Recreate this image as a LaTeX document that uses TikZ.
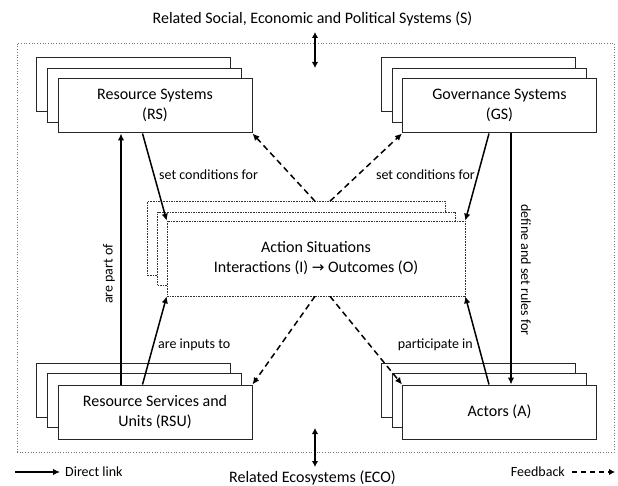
\documentclass[tikz,border=0pt]{standalone}
\usepackage{fontspec}
\setmainfont{Carlito}
\newfontfamily\symfont{DejaVu Sans}
\usetikzlibrary{arrows.meta}
\begin{document}
\begin{tikzpicture}[x=1pt,y=-1pt,
  every node/.style={font=\fontsize{16}{20}\selectfont},
  sysbox/.style={draw=black!85, fill=white, line width=1pt, minimum width=194pt, minimum height=54pt, inner sep=0pt, align=center},
  asbox/.style={draw=black!80, fill=white, line width=0.6pt, dash pattern=on 1.6pt off 1pt, minimum width=298pt, minimum height=74pt, inner sep=0pt, align=center},
  link/.style={line width=1.5pt, -{Latex[length=7pt,width=6.5pt]}},
  fb/.style={line width=1.5pt, dash pattern=on 6pt off 4pt, -{Latex[length=7pt,width=6.5pt]}},
  dbl/.style={line width=1.5pt, {Latex[length=6pt,width=6.5pt]}-{Latex[length=6pt,width=6.5pt]}},
  lbl/.style={font=\fontsize{14}{16}\selectfont, inner sep=0pt},
]
\useasboundingbox (0,0) rectangle (618,486);
% outer frame
\node[draw=black!55, dotted, line width=0.7pt, minimum width=597pt, minimum height=409pt, inner sep=0pt] (frame) at (315.5,247.5) {};
% top
\node (soc) at (312.5,19) {Related Social, Economic and Political Systems (S)};
\coordinate (st) at (315,32);
\coordinate (sb) at (315,68);
\draw[dbl] (st) -- (sb);
% RS stack
\node[sysbox] (rs3) at (133.5,85) {};
\node[sysbox] (rs2) at (144,95.5) {};
\node[sysbox, text depth=3pt] (rs) at (155,106) {Resource Systems\\(RS)};
% GS stack
\node[sysbox] (gs3) at (478.5,85) {};
\node[sysbox] (gs2) at (489,95.5) {};
\node[sysbox, text depth=3pt] (gs) at (499.5,106) {Governance Systems\\(GS)};
% RSU stack
\node[sysbox] (rsu3) at (133.5,390) {};
\node[sysbox] (rsu2) at (144,400.5) {};
\node[sysbox] (rsu) at (155,412) {Resource Services and\\Units (RSU)};
% Actors stack
\node[sysbox] (a3) at (478.5,390) {};
\node[sysbox] (a2) at (489,400.5) {};
\node[sysbox] (a) at (499.5,412) {Actors (A)};
% Action situations stack
\node[asbox] (as3) at (296.5,238.5) {};
\node[asbox, minimum height=73pt] (as2) at (306.5,248.5) {};
\node[asbox, minimum height=75pt] (as) at (316,258.5) {Action Situations\\Interactions (I) {\symfont\fontsize{15}{20}\selectfont →} Outcomes (O)};
% direct links
\draw[link] ([xshift=63.5pt]rsu.north west) -- ([xshift=63.5pt]rs.south west);
\draw[link] ([xshift=85pt]rs.south west) -- (as.north west);
\draw[link] ([xshift=85pt]rsu.north west) -- (as.south west);
\draw[link] ([xshift=87pt]gs.south west) -- (as.north east);
\draw[link] ([xshift=87pt]a.north west) -- (as.south east);
\draw[link] ([xshift=109pt]gs.south west) -- ([xshift=109pt]a.north west);
% feedback
\draw[fb] ([xshift=18.5pt]as3.north) -- (rs.south east);
\draw[fb] ([xshift=33.5pt]as3.north) -- (gs.south west);
\draw[fb] ([xshift=-1pt]as.south) -- (rsu.north east);
\draw[fb] ([xshift=14pt]as.south) -- (a.north west);
% labels
\node[lbl, anchor=west] (l1) at (159,175) {set conditions for};
\node[lbl, anchor=east] (l2) at (475,175) {set conditions for};
\node[lbl, anchor=west] (l3) at (158,345) {are inputs to};
\node[lbl, anchor=east] (l4) at (473,345) {participate in};
\node[lbl, rotate=90] (l5) at (109,274) {are part of};
\node[lbl, rotate=-90] (l6) at (526,270) {define and set rules for};
% bottom
\coordinate (et) at (315,428);
\coordinate (eb) at (315,467);
\draw[dbl] (et) -- (eb);
\node (eco) at (312.5,478) {Related Ecosystems (ECO)};
% legend
\coordinate (dl1) at (15,472);
\coordinate (dl2) at (60,472);
\draw[line width=1.5pt, -{Latex[length=7pt,width=6.5pt]}] (dl1) -- (dl2);
\node[lbl, anchor=west] (dlt) at (65,472) {Direct link};
\node[lbl, anchor=east] (fbt) at (565,472) {Feedback};
\coordinate (fb2) at (615,472);
\draw[line width=1.5pt, dash pattern=on 5pt off 4pt, -{Latex[length=6pt,width=6.5pt]}] ([xshift=7pt]fbt.east) -- (fb2);
\end{tikzpicture}
\end{document}
